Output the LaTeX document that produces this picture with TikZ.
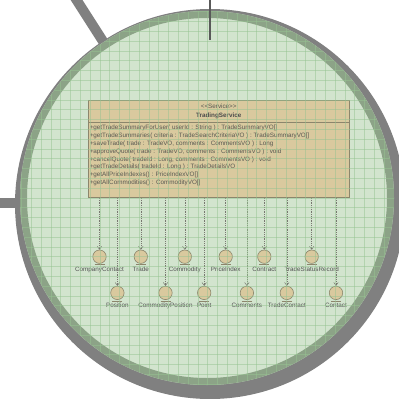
\documentclass[tikz,border=0pt]{standalone}
\usepackage{fontspec}
\setmainfont{Liberation Sans}
\usetikzlibrary{arrows.meta}

\definecolor{framegrey}{RGB}{128,128,128}
\definecolor{lensband}{RGB}{140,163,135}
\definecolor{lensfill}{RGB}{210,228,206}
\definecolor{gridgreen}{RGB}{150,195,145}
\definecolor{boxfill}{RGB}{217,201,158}
\definecolor{boxedge}{RGB}{140,134,108}
\definecolor{txtgrey}{RGB}{88,88,82}
\definecolor{depgrey}{RGB}{120,120,112}

\tikzset{
  small/.style={font=\fontsize{6.3}{7.9}\selectfont, text=txtgrey, inner sep=0pt},
  svcbox/.style={draw=boxedge, fill=boxfill, line width=0.7pt, inner sep=0pt},
  opline/.style={small, anchor=base west},
  entity/.style={circle, draw=boxedge, fill=boxfill, line width=0.6pt,
                 minimum size=13.4pt, inner sep=0pt},
  elabel/.style={small, anchor=base, text=black!68},
  dep/.style={draw=depgrey, line width=0.5pt, dash pattern=on 1pt off 0.8pt,
              -{Straight Barb[length=3pt,width=4.5pt]}},
  gridline/.style={draw=gridgreen, line width=0.7pt, opacity=0.5},
  barline/.style={draw=framegrey, line width=10pt},
}

\begin{document}
\begin{tikzpicture}[x=1pt,y=-1pt]
\useasboundingbox (0,0) rectangle (399,399);

% handles of the magnifier behind the frame
\coordinate (handleA) at (74,-4);
\coordinate (handleB) at (106,46);
\draw[barline] (handleA) -- (handleB);
\coordinate (stubA) at (-2,203);
\coordinate (stubB) at (24,203);
\draw[barline] (stubA) -- (stubB);

% frame and lens
\fill[framegrey] (210,204) circle[radius=195];
\fill[lensfill] (207,198) circle[radius=187];
\draw[lensband, line width=7pt] (207,198) circle[radius=183.5];

% class box
\node[svcbox, minimum width=260.7pt, minimum height=97pt] (svc) at (218.7,149.2) {};
\coordinate (sep) at (0,122.3);
\draw[boxedge, line width=0.6pt] (svc.west |- sep) -- (svc.east |- sep);
\node[small, anchor=base] (stereo) at (218.7,108.4) {<{}<Service>{}>};
\node[small, anchor=base, font=\fontsize{6.3}{7.9}\selectfont\bfseries, text=black!70] (title) at (218.7,117.8) {TradingService};

\node[opline] (op1) at (89.6,129.4) {+getTradeSummaryForUser( userId : String ) : TradeSummaryVO[]};
\node[opline] (op2) at (89.6,137.3) {+getTradeSummaries( criteria : TradeSearchCriteriaVO ) : TradeSummaryVO[]};
\node[opline] (op3) at (89.6,145.2) {+saveTrade( trade : TradeVO, comments : CommentsVO ) : Long};
\node[opline] (op4) at (89.6,153.1) {+approveQuote( trade : TradeVO, comments : CommentsVO ) : void};
\node[opline] (op5) at (89.6,161.0) {+cancelQuote( tradeId : Long, comments : CommentsVO ) : void};
\node[opline] (op6) at (89.6,168.9) {+getTradeDetails( tradeId : Long ) : TradeDetailsVO};
\node[opline] (op7) at (89.6,176.8) {+getAllPriceIndexes() : PriceIndexVO[]};
\node[opline] (op8) at (89.6,184.7) {+getAllCommodities() : CommodityVO[]};

% entities, upper row
\foreach \n/\x/\t in {cc/99.5/CompanyContact, tr/140.8/Trade, cm/184.8/Commodity,
                      pi/225.7/PriceIndex, ct/264.3/Contract, ts/311.7/TradeStatusRecord}{
  \node[entity] (\n) at (\x,256.7) {};
  \draw[boxedge, line width=0.6pt] ([xshift=-5pt,yshift=-1pt]\n.south) -- ([xshift=5pt,yshift=-1pt]\n.south);
  \node[elabel] (\n-l) at (\x,271.0) {\t};
  \draw[dep] (svc.south -| \n) -- (\n);
}
% entities, lower row
\foreach \n/\x/\t in {po/117.4/Position, cp/165.5/CommodityPosition, pt/204.2/Point,
                      co/246.9/Comments, tc/286.8/TradeContact, cn/336.0/Contact}{
  \node[entity] (\n) at (\x,292.9) {};
  \draw[boxedge, line width=0.6pt] ([xshift=-5pt,yshift=-1pt]\n.south) -- ([xshift=5pt,yshift=-1pt]\n.south);
  \node[elabel] (\n-l) at (\x,307.9) {\t};
  \draw[dep] (svc.south -| \n) -- (\n);
}

% lens grid
\begin{scope}
  \clip (207,198) circle[radius=187];
  \foreach \i in {0,...,40}{
    \draw[gridline] (2+9.8*\i,0) -- (2+9.8*\i,399);
    \draw[gridline] (0,2+9.8*\i) -- (399,2+9.8*\i);
  }
\end{scope}

% suspension line at the top
\coordinate (wireA) at (210,0);
\coordinate (wireB) at (210,40);
\draw[black!65, line width=1.6pt] (wireA) -- (wireB);
\end{tikzpicture}
\end{document}
